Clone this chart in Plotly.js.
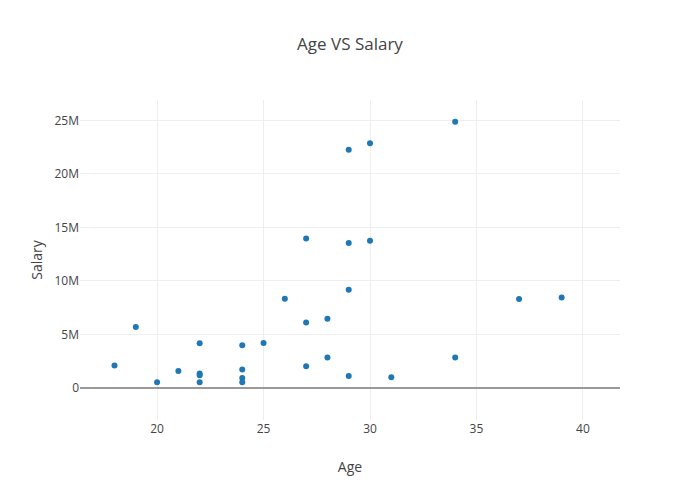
<!DOCTYPE html>
<html>
<head>
<meta charset="utf-8">
<script src="https://cdn.plot.ly/plotly-3.0.1.min.js"></script>
<style>html,body{margin:0;padding:0;}#chart{width:700px;height:500px;}</style>
</head>
<body>
<div id="chart"></div>
<script>
var ages = [18,19,20,21,22,22,22,22,24,24,24,24,25,26,27,27,27,28,28,29,29,29,29,30,30,31,34,34,37,39];
var salariesM = [2.1,5.7,0.53,1.58,4.17,1.34,1.18,0.53,3.98,1.71,0.93,0.53,4.2,8.33,13.95,6.1,2.02,6.47,2.83,22.25,13.55,9.17,1.12,22.87,13.74,1.0,24.87,2.83,8.3,8.45];
var salaries = salariesM.map(function(v){return v*1e6;});

var trace = {
  x: ages, y: salaries, mode: 'markers', type: 'scatter',
  marker: {color: '#1f77b4', size: 6}
};
var layout = {
  width: 700, height: 500,
  title: {text: 'Age VS Salary', font: {size: 17, color: '#444'}},
  font: {family: '"Open Sans", verdana, arial, sans-serif', color: '#444'},
  xaxis: {title: {text: 'Age'}, range: [16.38, 41.74], gridcolor: '#eee', zeroline: false},
  yaxis: {title: {text: 'Salary'}, range: [-3.0e6, 26.9e6], gridcolor: '#eee', zeroline: true, zerolinecolor: '#999', zerolinewidth: 2},
  margin: {l: 80, r: 80, t: 100, b: 80},
  paper_bgcolor: '#fff', plot_bgcolor: '#fff',
  showlegend: false
};
Plotly.newPlot('chart', [trace], layout, {displayModeBar: false});
</script>
</body>
</html>
